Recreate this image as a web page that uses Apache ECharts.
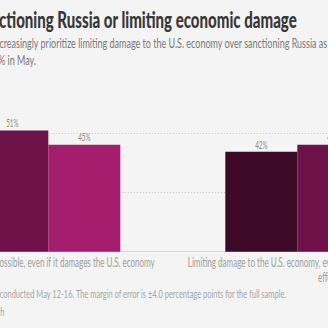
<!DOCTYPE html>
<html>
<head>
<meta charset="utf-8">
<script src="https://cdn.jsdelivr.net/npm/echarts@6/dist/echarts.min.js"></script>
<style>
  html, body { margin: 0; padding: 0; width: 328px; height: 328px; overflow: hidden; background: #f4f4f4; position: relative; }
  #chart { position: absolute; left: -200px; top: 0; width: 760px; height: 328px; }
</style>
</head>
<body>
<div id="chart"></div>
<script>
// ---- data ----
const title = 'Americans split on sanctioning Russia or limiting economic damage';
const subtitleLines = [
  'Americans increasingly prioritize limiting damage to the U.S. economy over sanctioning Russia as effectively as possible, rising from 42% in March to',
  '52% in May.'
];
const noteLines = [
  'Note: Poll of 1,172 adults conducted May 12-16. The margin of error is \u00b14.0 percentage points for the full sample.',
  'Source: AP-NORC Center for Public Affairs Research'
];
const categories = [
  'Sanctioning Russia as effectively as possible, even if it damages the U.S. economy',
  'Limiting damage to the U.S. economy, even if it makes sanctions against Russia less effective'
];
const months = ['March', 'April', 'May'];
const march = [56, 42];
const april = [51, 45];
const may = [45, 52];
const valueTicks = [0, 25, 50];

// ---- styling ----
const OFF = 200;                 // the chart surface starts 200px left of the page
const FONT = 'Lato';
const barColors = ['#3d0b27', '#6f1149', '#a51e6e'];

const measureCtx = document.createElement('canvas').getContext('2d');
function measure(str, size, weight) {
  measureCtx.font = (weight || 'normal') + ' ' + size + 'px ' + FONT;
  return measureCtx.measureText(str).width;
}
// condensed text: the face is squeezed horizontally by scaleX around its anchor
function textEl(str, o) {
  return {
    type: 'text', x: o.x, y: o.y, scaleX: o.scale, silent: true, z: 10,
    style: {
      text: str, x: 0, y: 0, fill: o.color,
      fontFamily: FONT, fontSize: o.size, fontWeight: o.weight || 'normal',
      textAlign: o.align || 'left', verticalAlign: 'middle'
    }
  };
}

const chart = echarts.init(document.getElementById('chart'), null, { renderer: 'svg' });
chart.setOption({
  backgroundColor: '#f4f4f4',
  animation: false,
  grid: { left: OFF - 148.2, width: 642, top: 109, height: 142.7 },
  xAxis: {
    type: 'category', data: categories,
    axisLine: { show: true, lineStyle: { color: '#d8d8d8', width: 1 } },
    axisTick: { show: false }, axisLabel: { show: false }
  },
  yAxis: {
    type: 'value', min: valueTicks[0], max: 60, interval: valueTicks[1] - valueTicks[0],
    axisLine: { show: false }, axisTick: { show: false }, axisLabel: { show: false },
    splitLine: { show: true, showMinLine: false, showMaxLine: false,
      lineStyle: { color: '#c4c4c4', width: 1, type: [1, 2] } }
  },
  series: [march, april, may].map((vals, i) => ({
    name: months[i], type: 'bar', data: vals,
    barWidth: 72, barGap: '0%',
    itemStyle: { color: barColors[i] }
  }))
});

// ---- texts ----
const els = [];

// title
const tSize = 23, tWeight = '900';
const tSeg = 'ctioning Russia or limiting economic damage';
const tScale = 298 / measure(tSeg, tSize, tWeight);
const tPre = title.slice(0, title.indexOf(tSeg));
els.push(textEl(title, { x: OFF - 1 - tScale * measure(tPre, tSize, tWeight), y: 19, scale: tScale,
  size: tSize, weight: tWeight, color: '#383838' }));

// subtitle
const sSize = 12.5;
const sSeg = 'creasingly prioritize limiting damage to the U.S. economy over sanctioning Russia';
const sScale = 318.5 / measure(sSeg, sSize);
const sPre = subtitleLines[0].slice(0, subtitleLines[0].indexOf(sSeg));
els.push(textEl(subtitleLines[0], { x: OFF - 0.5 - sScale * measure(sPre, sSize), y: 43, scale: sScale, size: sSize, color: '#7a7a7a' }));
els.push(textEl(subtitleLines[1], { x: OFF + 36, y: 60, scale: sScale, size: sSize, color: '#7a7a7a', align: 'right' }));

// notes
const nSize = 11.5;
const nSeg = 'conducted May 12-16. The margin of error is \u00b14.0 percentage points for the full sample.';
const nScale = 287.5 / measure(nSeg, nSize);
const nPre = noteLines[0].slice(0, noteLines[0].indexOf(nSeg));
els.push(textEl(noteLines[0], { x: OFF - nScale * measure(nPre, nSize), y: 293.5, scale: nScale, size: nSize, color: '#a6a6a6' }));
els.push(textEl(noteLines[1], { x: OFF + 4.5, y: 311.5, scale: nScale, size: nSize, color: '#a6a6a6', align: 'right' }));

// category labels, wrapped under each group
const cSize = 12.5;
const cScale = 285.4 / measure(categories[0], cSize);
const cMax = 300;
function wrap(str) {
  const words = str.split(' ');
  const lines = [];
  let cur = '';
  words.forEach(w => {
    const next = cur ? cur + ' ' + w : w;
    if (cur && measure(next, cSize) * cScale > cMax) { lines.push(cur); cur = w; }
    else cur = next;
  });
  if (cur) lines.push(cur);
  return lines;
}
categories.forEach((c, i) => {
  const x = chart.convertToPixel({ xAxisIndex: 0 }, i);
  wrap(c).forEach((line, k) => {
    els.push(textEl(line, { x: x, y: 262.5 + k * 14.5, scale: cScale, size: cSize, color: '#a0a0a0', align: 'center' }));
  });
});

// value labels above bars
const vSize = 11;
const vScale = 12.3 / measure('51%', vSize);
[march, april, may].forEach((vals, s) => {
  const data = chart.getModel().getSeriesByIndex(s).getData();
  vals.forEach((v, j) => {
    const lay = data.getItemLayout(j);
    const x = lay ? lay.x + lay.width / 2 : chart.convertToPixel({ xAxisIndex: 0 }, j) + (s - 1) * 72;
    const y = chart.convertToPixel({ yAxisIndex: 0 }, v) - 7.6;
    els.push(textEl(v + '%', { x: x, y: y, scale: vScale, size: vSize, color: '#8c8c8c', align: 'center' }));
  });
});

chart.setOption({ graphic: { elements: els } });
</script>
</body>
</html>
